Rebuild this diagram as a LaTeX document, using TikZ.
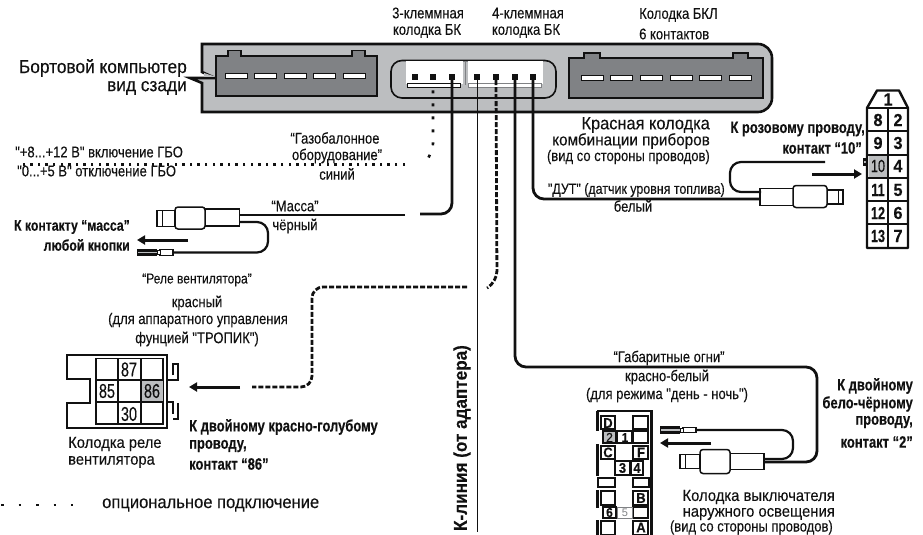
\documentclass[tikz,border=0pt]{standalone}
\usepackage{fontspec}
\setmainfont{Liberation Sans}
\newfontfamily\condfont[FakeStretch=0.84,FakeBold=0.2]{Liberation Sans}
\newfontfamily\midfont[FakeStretch=0.92,FakeBold=0.2]{Liberation Sans}
\newfontfamily\blfont[FakeStretch=0.79,FakeBold=0.3]{Liberation Sans}
\newfontfamily\numfont[FakeStretch=0.93,FakeBold=0.2]{Liberation Sans}
\newfontfamily\nnfont[FakeStretch=0.72,FakeBold=0.2]{Liberation Sans}
\usetikzlibrary{arrows.meta}
\definecolor{boxgrey}{HTML}{BCBEC0}
\definecolor{darkgrey}{HTML}{808285}
\definecolor{ink}{HTML}{111111}
\newcommand{\fs}[1]{\fontsize{#1}{#1}\selectfont}
\tikzset{
 lab/.style={inner sep=0pt,text=ink,font=\condfont\fs{15.5}},
 big/.style={inner sep=0pt,text=ink,font=\midfont\fs{18}},
 bld/.style={inner sep=0pt,text=ink,font=\blfont\bfseries\fs{16.4}},
 num/.style={inner sep=0pt,text=ink,font=\nnfont\fs{20}},
 bnum/.style={inner sep=0pt,text=ink,font=\numfont\bfseries\fs{17.5}},
 bnn/.style={inner sep=0pt,text=ink,font=\nnfont\bfseries\fs{17.5}},
 wire/.style={draw=ink,line width=2.8pt,rounded corners=11pt},
 thinwire/.style={draw=ink,line width=0.9pt},
 dotwire/.style={draw=ink,line width=3pt,dash pattern=on 2.5pt off 5.1pt},
 sparsewire/.style={draw=ink,line width=2.6pt,dash pattern=on 3pt off 10pt,rounded corners=5pt},
 dashwire/.style={draw=ink,line width=2.8pt,dash pattern=on 5pt off 2pt,rounded corners=11pt},
 flow/.style={draw=ink,line width=3pt,-{Triangle[length=8pt,width=9pt]}},
 plugpart/.style={draw=ink,line width=1.5pt,fill=white,inner sep=0pt,rectangle},
 barrel/.style={plugpart,rounded corners=3pt},
 slot/.style={draw=ink,line width=0.9pt,fill=white,minimum width=22pt,minimum height=5pt,inner sep=0pt,rectangle},
 pin/.style={fill=ink,minimum width=6pt,minimum height=6pt,inner sep=0pt,rectangle},
 cell/.style={draw=ink,line width=1.5pt,fill=white,inner sep=0pt,rectangle},
 tagpic/.pic={
   \fill[ink] (0,-3.6) rectangle (20,3.6);
   \fill[boxgrey] (1,-0.7) rectangle (20,0.7);
   \draw[ink,line width=1.2pt,fill=white] (23,-2.8) rectangle (36,2.8);
   \fill[white,draw=ink,line width=.5pt] (20,-2) rectangle (23,2);
 }
}
\begin{document}
\begin{tikzpicture}[x=1pt,y=-1pt]
\useasboundingbox (0,0) rectangle (923,535);
% ---- computer body
\draw[ink,line width=2.6pt,fill=boxgrey] (202,44) -- (758,44) arc[start angle=-90,end angle=0,radius=14] -- (772,98) arc[start angle=0,end angle=90,radius=14] -- (202,112) -- (202,83) -- (190,78) -- (215,78) -- (202,72) -- cycle;
\fill[boxgrey] (204,73) -- (216,76.8) -- (204,76.8) -- cycle;
% ---- left connector
\draw[ink,line width=1.4pt,fill=darkgrey] (216,56) -- (228,56) -- (228,50.5) -- (241,50.5) -- (241,56) -- (352,56) -- (352,50.5) -- (365,50.5) -- (365,56) -- (377,56) -- (377,96) -- (216,96) -- cycle;
\foreach \i in {0,...,4} \node[slot] (la\i) at ({236+\i*29.6},75.7) {};
% ---- right connector
\draw[ink,line width=1.4pt,fill=darkgrey] (569,58) -- (584,58) -- (584,53) -- (600,53) -- (600,58) -- (733,58) -- (733,53) -- (748,53) -- (748,58) -- (763,58) -- (763,98) -- (569,98) -- cycle;
\foreach \i in {0,...,5} \node[slot] (ra\i) at ({592+\i*29.7},78) {};
% ---- centre socket
\draw[ink,line width=1.6pt,fill=boxgrey,rounded corners=11pt] (391,60.5) rectangle (556,98);
\fill[white] (406,61.2) rectangle (463,84);
\fill[white] (467.5,61.2) rectangle (543,84);
\draw[darkgrey,line width=.8pt] (465,61) -- (465,85);
\node[pin] (a1) at (415,77) {};
\node[pin] (a2) at (433,77) {};
\node[pin] (a3) at (452,77) {};
\node[pin] (b1) at (477,77) {};
\node[pin] (b2) at (496,77) {};
\node[pin] (b3) at (515,77) {};
\node[pin] (b4) at (533,77) {};
\node[draw=ink,line width=1.6pt,fill=white,minimum width=53pt,minimum height=4pt,inner sep=0pt] (s3) at (434,85.5) {};
\node[draw=darkgrey,line width=1pt,fill=white,minimum width=73pt,minimum height=4pt,inner sep=0pt] (s4) at (505,85.5) {};
% ---- K-line and header wires
\coordinate (kend) at (477,532);
\draw[thinwire] (b1.south) -- (kend);
% ---- gas wire
\coordinate (gasc) at (426,163);
\coordinate (gasl) at (405,164);
\coordinate (gase) at (18,164);
\draw[sparsewire] (a2.south |- s3.south) ++(0,2) -- (433,148) -- (gasc);
\draw[dotwire] (gasl) -- (gase);
% ---- massa
\node[plugpart,minimum width=18pt,minimum height=16pt] (mtip) at (166,218.5) {};
\draw[ink,line width=1pt] (162,211) -- (162,226);
\node[plugpart,minimum width=35pt,minimum height=17pt] (mbody) at (222,217.5) {};
\node[barrel,minimum width=30pt,minimum height=22pt] (mbar) at (190,218) {};
\coordinate (mj) at (405,215);
\coordinate (mk) at (420,214);
\draw[wire] (a3.south) -- (452,214) -- (mk);
\draw[wire] (mj) -- (mbody.east |- mj);
\pic (mtag) at (137,252.5) {tagpic};
\coordinate (mtage) at (173,252.5);
\draw[wire,line width=2.2pt] (240,222) -- (268,222) -- (268,252.5) -- (mtage);
\coordinate (marA) at (188,240);
\coordinate (marB) at (137,240);
\draw[flow] (marA) -- (marB);
% ---- dashed fan wire
\coordinate (dbreak) at (487,288);
\coordinate (dstart) at (467,287);
\coordinate (dend) at (252,387);
\draw[dashwire] (b2.south) -- (497,282) -- (dbreak);
\draw[dashwire] (dstart) -- (312,287) -- (312,387) -- (dend);
\coordinate (rarA) at (240,387);
\coordinate (rarB) at (189,387);
\draw[flow] (rarA) -- (rarB);
% ---- gabarit wire
\node[plugpart,minimum width=20pt,minimum height=14pt] (gtip) at (690,461.5) {};
\draw[ink,line width=1pt] (685,455) -- (685,468);
\node[plugpart,minimum width=34pt,minimum height=16pt] (gbody) at (747,461.5) {};
\node[barrel,minimum width=30pt,minimum height=24pt] (gbar) at (715,461.5) {};
\draw[wire] (b3.south) -- (515,367) -- (817,367) -- (817,462) -- (gbody.east |- 0,462);
\coordinate (gtage) at (697,430);
\draw[wire,line width=2.2pt] (764,459) -- (793,459) -- (793,430) -- (gtage);
\pic (gtag) at (660,430) {tagpic};
\coordinate (garA) at (711,443);
\coordinate (garB) at (660,443);
\draw[flow] (garA) -- (garB);
% ---- DUT wire
\node[plugpart,minimum width=16pt,minimum height=14pt] (dtip) at (835,197) {};
\draw[ink,line width=1pt] (838,190) -- (838,204);
\node[plugpart,minimum width=34pt,minimum height=17pt] (dbody) at (777,197) {};
\node[barrel,minimum width=34pt,minimum height=22pt] (dbar) at (810,196.5) {};
\draw[wire] (b4.south) -- (533,199) -- (dbody.west |- 0,199);
\coordinate (dtage) at (825,162);
\draw[wire,line width=2.2pt] (761,192) -- (730,192) -- (730,162) -- (dtage);
\begin{scope}[shift={(863,162)},xscale=-1]
\pic (dtag) at (0,0) {tagpic};
\end{scope}
\coordinate (darA) at (812,174);
\coordinate (darB) at (862,174);
\draw[flow] (darA) -- (darB);
% ---- 13-pin block
\draw[ink,line width=2.4pt,fill=white,line join=round] (867,108) -- (877,90.5) -- (899,90.5) -- (908,108) -- (908,248) -- (867,248) -- cycle;
\draw[ink,line width=2.2pt] (867,108) -- (908,108);
\draw[ink,line width=2pt] (888,108) -- (888,248);
\foreach \y in {131,154.5,178,201,224} \draw[ink,line width=2pt] (867,\y) -- (908,\y);
\fill[boxgrey] (869,155.5) rectangle (887,177);
\node[bnum] (n1) at (888,99.5) {1};
\node[bnum] (n8) at (878,120) {8};
\node[bnum] (n2) at (898,120) {2};
\node[bnum] (n9) at (878,143) {9};
\node[bnum] (n3) at (898,143) {3};
\node[bnn,font=\nnfont\fs{17.5}] (n10) at (878,166) {10};
\node[bnum] (n4) at (898,166) {4};
\node[bnn] (n11) at (878,190) {11};
\node[bnum] (n5) at (898,190) {5};
\node[bnn] (n12) at (878,213) {12};
\node[bnum] (n6) at (898,213) {6};
\node[bnn] (n13) at (878,236) {13};
\node[bnum] (n7) at (898,236) {7};
% ---- relay block
\draw[ink,line width=2.8pt,fill=white] (67,355) -- (167,355) -- (167,428) -- (67,428) -- (67,403) -- (90,403) -- (90,379) -- (67,379) -- cycle;
\draw[ink,line width=1.8pt,fill=white] (96,358.5) rectangle (163,424);
\fill[boxgrey] (141,380) rectangle (163,402);
\foreach \xa in {118,141} \draw[ink,line width=1.3pt] (\xa,358.5) -- (\xa,380) (\xa,402) -- (\xa,424);
\draw[ink,line width=1.3pt] (96,380) -- (163,380) (96,402) -- (163,402) (118,380) -- (118,402)(141,380) -- (141,402);
\draw[ink,line width=1.7pt] (173,375) -- (173,364) -- (178,364) -- (178,380) -- (168,380);
\draw[ink,line width=1.7pt] (168,402) -- (173,402) -- (173,414) (173,419) -- (178,419) -- (178,403);
\node[num] (r87) at (129,369.5) {87};
\node[num] (r85) at (107,391) {85};
\node[num] (r86) at (152,391) {86};
\node[num] (r30) at (129,414) {30};
% ---- switch block
\draw[ink,line width=2.6pt] (597,411) -- (651.5,411) -- (651.5,535);
\draw[ink,line width=3pt] (597,411) -- (597,431) (597,444) -- (597,476) (597,490) -- (597,508) (597,520) -- (597,535);
\foreach \xa/\ya/\xb/\yb in {601/416/615/429, 633/416/648/429, 617/431/632/443, 633/431/648/443, 601/446/615/459, 633/446/648/459, 598/478/615/487, 633/478/649/487, 601/491/615/505, 633/491/648/505, 633/507/648/518, 601/521/615/535, 633/521/648/535, 603/507/616/518}
  \draw[cell,line width=1.3pt] (\xa,\ya) rectangle (\xb,\yb);
\draw[draw=darkgrey,line width=1pt,fill=white] (617,507) rectangle (632,518);
\draw[cell,line width=1.3pt,fill=boxgrey] (603,431) rectangle (616,443);
\draw[cell,line width=1.3pt] (615,461) rectangle (630,475);
\draw[cell,line width=1.3pt] (631,461) rectangle (643,475);
\node[bnum,font=\numfont\bfseries\fs{14}] (cD) at (608,423) {D};
\node[num,font=\numfont\fs{13}] (c2) at (609.5,437.5) {2};
\node[bnum,font=\numfont\bfseries\fs{12.5}] (c1) at (625,437.5) {1};
\node[bnum,font=\numfont\bfseries\fs{14}] (cC) at (608,452.5) {C};
\node[bnum,font=\numfont\bfseries\fs{14}] (cF) at (641,452.5) {F};
\node[bnum,font=\numfont\bfseries\fs{14}] (c3) at (622.5,468) {3};
\node[bnum,font=\numfont\bfseries\fs{14}] (c4) at (637,468) {4};
\node[bnum,font=\numfont\bfseries\fs{14}] (cB) at (641,498) {B};
\node[bnum,font=\numfont\bfseries\fs{13}] (c6) at (609.5,512.5) {6};
\node[num,font=\fs{11},text=darkgrey] (c5) at (625,512.5) {5};
\node[bnum,font=\numfont\bfseries\fs{14}] (cA) at (641,527.5) {A};
% ---- legend
\coordinate (legA) at (1,505);
\coordinate (legB) at (73,505);
\draw[ink,line width=2.2pt,dash pattern=on 2.5pt off 15pt] (legA) -- (legB);
% ---- labels
\node[lab] (t1) at (428,13) {3-клеммная};
\node[lab] (t2) at (427,31) {колодка БК};
\node[lab] (t3) at (528,13) {4-клеммная};
\node[lab] (t4) at (526,31) {колодка БК};
\node[lab,anchor=west] (t5) at (639,15) {Колодка БКЛ};
\node[lab,anchor=west] (t6) at (639,34) {6 контактов};
\node[big,anchor=east,font=\midfont\fs{18.8}] (t7) at (187,68) {Бортовой компьютер};
\node[big,anchor=east,font=\midfont\fs{18.8}] (t8) at (187,88) {вид сзади};
\node[lab] (t9) at (335,138) {“Газобалонное};
\node[lab] (t10) at (337,156) {оборудование”};
\node[lab] (t11) at (337,174) {синий};
\node[lab,anchor=west] (t12) at (15,152) {"+8...+12 В" включение ГБО};
\node[lab,anchor=west] (t13) at (17,171) {"0...+5 В" отключение ГБО};
\node[lab] (t14) at (295,206) {“Масса”};
\node[lab] (t15) at (295,226) {чёрный};
\node[bld,anchor=east,font=\blfont\bfseries\fs{15.5}] (t16) at (130,227) {К контакту “масса”};
\node[bld,anchor=east,font=\blfont\bfseries\fs{15.5}] (t17) at (130,245) {любой кнопки};
\node[big,anchor=east,font=\midfont\fs{17.8}] (t18) at (710,125) {Красная колодка};
\node[big,anchor=east,font=\midfont\fs{16.6}] (t19) at (710,141) {комбинации приборов};
\node[lab,anchor=east] (t20) at (710,157) {(вид со стороны проводов)};
\node[bld,anchor=east] (t21) at (865,129) {К розовому проводу,};
\node[bld,anchor=east] (t22) at (862,148) {контакт “10”};
\node[lab,anchor=east,font=\condfont\fs{14.8}] (t23) at (725,190) {"ДУТ" (датчик уровня топлива)};
\node[lab] (t24) at (633,206) {белый};
\node[lab,font=\condfont\fs{14.3}] (t25) at (197,280) {“Реле вентилятора”};
\node[lab] (t26) at (197,303) {красный};
\node[lab] (t27) at (198,320) {(для аппаратного управления};
\node[lab] (t28) at (197,339) {фунцией "ТРОПИК")};
\node[big,anchor=west,font=\midfont\fs{16}] (t29) at (68,444) {Колодка реле};
\node[big,anchor=west,font=\midfont\fs{16}] (t30) at (68,462) {вентилятора};
\node[bld,anchor=west] (t31) at (189,427) {К двойному красно-голубому};
\node[bld,anchor=west] (t32) at (189,446) {проводу,};
\node[bld,anchor=west] (t33) at (189,464) {контакт “86”};
\node[big,anchor=west] (t34) at (102,505) {опциональное подключение};
\node[big,font=\midfont\bfseries\fs{18.6},rotate=90] (t35) at (462,438) {К-линия (от адаптера)};
\node[lab] (t36) at (669,358) {“Габаритные огни”};
\node[lab] (t37) at (667,377) {красно-белый};
\node[lab] (t38) at (667,395) {(для режима "день - ночь")};
\node[bld,anchor=east] (t39) at (913,386) {К двойному};
\node[bld,anchor=east] (t40) at (913,404) {бело-чёрному};
\node[bld,anchor=east] (t41) at (913,422) {проводу,};
\node[bld,anchor=east] (t42) at (913,442) {контакт “2”};
\node[big,anchor=east,font=\midfont\fs{16.1}] (t43) at (835,497) {Колодка выключателя};
\node[big,anchor=east,font=\midfont\fs{16.1}] (t44) at (835,514) {наружного освещения};
\node[lab,anchor=east] (t45) at (833,527.5) {(вид со стороны проводов)};
\end{tikzpicture}
\end{document}
